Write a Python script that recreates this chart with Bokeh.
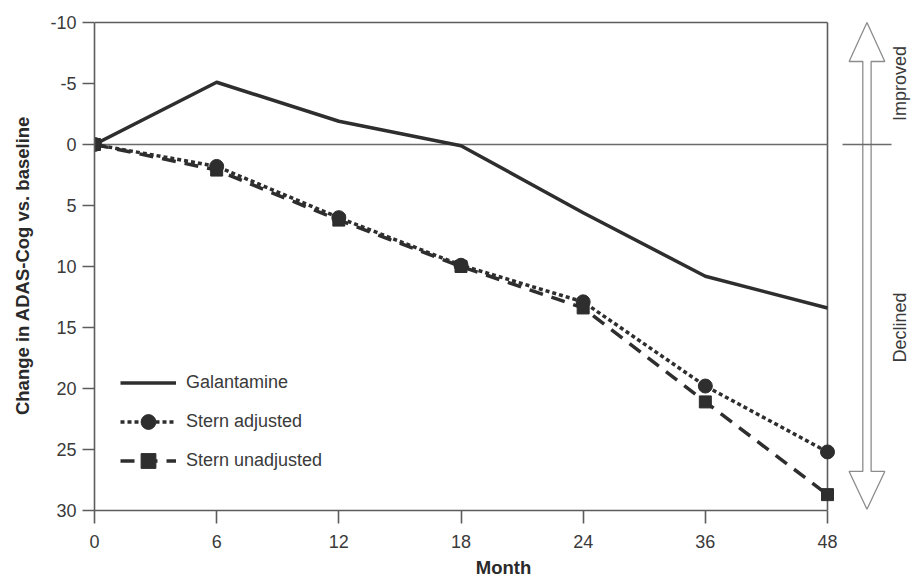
import math
from bokeh.plotting import figure
from bokeh.models import Range1d, FixedTicker, Legend, LegendItem
from bokeh.core.properties import value
from bokeh.embed import file_html
from bokeh.resources import INLINE

# ---- data ----
months = ["0", "6", "12", "18", "24", "36", "48"]
galantamine = [0, -5.1, -1.9, 0.1, 5.6, 10.8, 13.4]
stern_adjusted = [0, 1.8, 6.0, 9.9, 12.9, 19.8, 25.2]
stern_unadjusted = [0, 2.1, 6.2, 10.0, 13.4, 21.1, 28.7]
y_ticks = [-10, -5, 0, 5, 10, 15, 20, 25, 30]
series_names = ["Galantamine", "Stern adjusted", "Stern unadjusted"]
side_labels = ["Improved", "Declined"]

# ---- styling ----
FONT = "Liberation Sans"
INK = "#2e2e2e"
AXIS = "#5c5c5c"
TXT = "#3a3a3a"
ARROW = "#8c8c8c"

x = list(range(len(months)))
X_MAX = x[-1]
Y_TOP, Y_BOT = y_ticks[0], y_ticks[-1]

W, H = 912, 580
LEFT, TOP, BOTTOM = 94, 20, 69
frame_w = W - LEFT
x_end = X_MAX * frame_w / 733.0

p = figure(width=W, height=H, output_backend="svg", toolbar_location=None,
           x_range=Range1d(0, x_end), y_range=Range1d(Y_BOT, Y_TOP - 0.16),
           min_border_left=LEFT, min_border_right=0, min_border_top=TOP,
           min_border_bottom=BOTTOM)
p.outline_line_color = None
p.xgrid.visible = False
p.ygrid.visible = False
p.background_fill_color = "white"
p.border_fill_color = "white"

# x axis
xa = p.xaxis[0]
xa.ticker = FixedTicker(ticks=x, minor_ticks=[])
xa.major_label_overrides = {i: m for i, m in zip(x, months)}
xa.bounds = (0, X_MAX)
xa.axis_label = "Month"
# y axis
ya = p.yaxis[0]
ya.ticker = FixedTicker(ticks=y_ticks, minor_ticks=[])
ya.major_label_overrides = {t: str(t) for t in y_ticks}
ya.bounds = (Y_TOP, Y_BOT)
ya.axis_label = "Change in ADAS-Cog vs. baseline"

for ax in (xa, ya):
    ax.axis_line_color = AXIS
    ax.axis_line_width = 1.6
    ax.major_tick_line_color = AXIS
    ax.major_tick_line_width = 1.6
    ax.major_tick_in = 0
    ax.minor_tick_line_color = None
    ax.major_label_text_font = FONT
    ax.major_label_text_font_size = "18px"
    ax.major_label_text_color = TXT
    ax.axis_label_text_font = FONT
    ax.axis_label_text_font_size = "18.5px"
    ax.axis_label_text_font_style = "bold"
    ax.axis_label_text_color = "#2a2a2a"
xa.major_tick_out = 13
xa.major_label_standoff = 11
xa.axis_label_standoff = 6
ya.major_tick_out = 12
ya.major_label_standoff = 6
ya.axis_label_standoff = 14

# frame borders (top / right) and zero line
p.segment(x0=[0], y0=[Y_TOP], x1=[X_MAX], y1=[Y_TOP], line_color=AXIS, line_width=1.6)
p.segment(x0=[X_MAX], y0=[Y_TOP], x1=[X_MAX], y1=[Y_BOT], line_color=AXIS, line_width=1.6)
p.segment(x0=[0], y0=[0], x1=[X_MAX], y1=[0], line_color="#6a6a6a", line_width=1.4)

# data series
r_gal = p.line(x, galantamine, line_color=INK, line_width=3.5, line_join="round")
r_un_l = p.line(x, stern_unadjusted, line_color=INK, line_width=3.5, line_dash="14 9")
r_un_m = p.scatter(x, stern_unadjusted, marker="square", size=12, fill_color=INK, line_color=INK)
r_ad_l = p.line(x, stern_adjusted, line_color=INK, line_width=3.5, line_dash="4 3")
r_ad_m = p.scatter(x, stern_adjusted, marker="circle", size=14, fill_color=INK, line_color=INK)

legend = Legend(items=[
    LegendItem(label=series_names[0], renderers=[r_gal]),
    LegendItem(label=series_names[1], renderers=[r_ad_l, r_ad_m]),
    LegendItem(label=series_names[2], renderers=[r_un_l, r_un_m]),
], location=(26, 31))
legend.border_line_color = None
legend.background_fill_alpha = 0
legend.padding = 0
legend.margin = 0
legend.spacing = 2
legend.glyph_width = 56
legend.glyph_height = 37
legend.label_height = 37
legend.label_standoff = 10
legend.label_text_font = FONT
legend.label_text_font_size = "18px"
legend.label_text_color = TXT
p.add_layout(legend)

# hollow double-headed arrow on the right
cx = X_MAX + 0.323
hw, sw = 0.146, 0.034
y_head_top, y_head_bot = -6.8, 26.8
ax_pts = [
    (cx, Y_TOP), (cx + hw, y_head_top), (cx + sw, y_head_top), (cx + sw, y_head_bot),
    (cx + hw, y_head_bot), (cx, Y_BOT - 0.1), (cx - hw, y_head_bot), (cx - sw, y_head_bot),
    (cx - sw, y_head_top), (cx - hw, y_head_top),
]
p.patch([a for a, b in ax_pts], [b for a, b in ax_pts], fill_color="white",
        line_color=ARROW, line_width=1.3)
p.segment(x0=[X_MAX + 0.123], y0=[0], x1=[X_MAX + 0.524], y1=[0], line_color="#6a6a6a", line_width=1.4)

p.text(x=[X_MAX + 0.59, X_MAX + 0.59], y=[-5.0, 15.0], text=side_labels,
       angle=math.pi / 2, text_align="center", text_baseline="middle",
       text_font=value(FONT), text_font_size="18px", text_color=TXT)

open("out.html", "w").write(file_html(p, INLINE))
